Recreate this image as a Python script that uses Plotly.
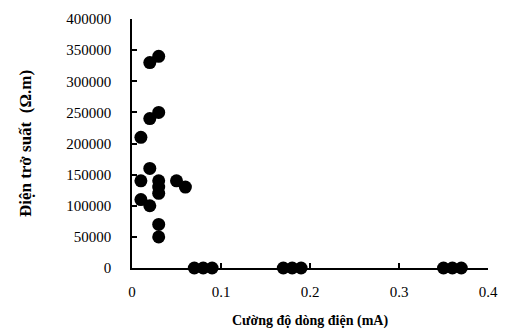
import plotly.graph_objects as go

current_mA = [0.02, 0.03, 0.02, 0.03, 0.01, 0.02, 0.01, 0.03, 0.03, 0.03, 0.05, 0.06,
              0.01, 0.02, 0.03, 0.03, 0.07, 0.08, 0.09, 0.17, 0.18, 0.19, 0.35, 0.36, 0.37]
resistivity = [330000, 340000, 240000, 250000, 210000, 160000, 140000, 140000, 130000, 120000,
               140000, 130000, 110000, 100000, 70000, 50000, 0, 0, 0, 0, 0, 0, 0, 0, 0]

x_ticks = [0, 0.1, 0.2, 0.3, 0.4]
x_ticklabels = ["0", "0.1", "0.2", "0.3", "0.4"]
y_ticks = [0, 50000, 100000, 150000, 200000, 250000, 300000, 350000, 400000]
y_ticklabels = [str(v) for v in y_ticks]

fig = go.Figure()
fig.add_trace(go.Scatter(
    x=current_mA, y=resistivity, mode="markers",
    marker=dict(color="black", size=13, line=dict(width=0)),
    cliponaxis=False, showlegend=False,
))

font = "Liberation Serif, Times New Roman, serif"
fig.update_layout(
    width=505, height=334,
    margin=dict(l=132, r=17, t=19, b=66),
    paper_bgcolor="white", plot_bgcolor="white",
    font=dict(family=font, color="black", size=15),
)
fig.update_xaxes(
    range=[0, 0.4], tickvals=x_ticks, ticktext=x_ticklabels, automargin=False,
    showgrid=False, zeroline=False, showline=True, linecolor="black", linewidth=1.5,
    ticks="inside", ticklen=5, tickcolor="black", tickwidth=1.5,
    ticklabelstandoff=9, layer="below traces",
    title=dict(text="<b>Cường độ dòng điện (mA)</b>", font=dict(family=font, size=14), standoff=16),
)
fig.update_yaxes(
    range=[0, 400000], tickvals=y_ticks, ticktext=y_ticklabels, automargin=False,
    showgrid=False, zeroline=False, showline=True, linecolor="black", linewidth=1.5,
    ticks="inside", ticklen=5, tickcolor="black", tickwidth=1.5,
    ticklabelstandoff=16, layer="below traces",
    title=dict(text="<b>Điện trở suất  (Ω.m)</b>", font=dict(family=font, size=17), standoff=30),
)

fig.write_html("out.html")
